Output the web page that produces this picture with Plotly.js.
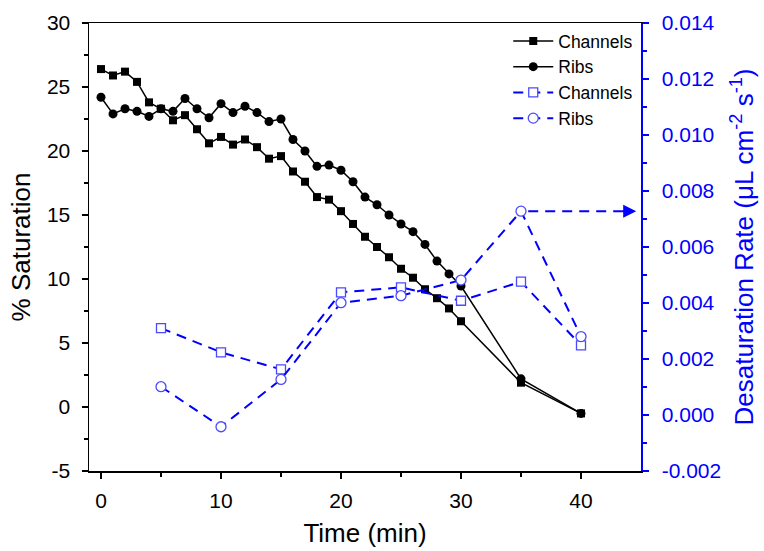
<!DOCTYPE html>
<html>
<head>
<meta charset="utf-8">
<script src="https://cdn.plot.ly/plotly-3.0.1.min.js"></script>
<style>html,body{margin:0;padding:0;background:#fff;}#chart{width:764px;height:551px;}</style>
</head>
<body>
<div id="chart"></div>
<script>
const time = [0,1,2,3,4,5,6,7,8,9,10,11,12,13,14,15,16,17,18,19,20,21,22,23,24,25,26,27,28,29,30,35,40];
const channelsSat = [26.4,25.9,26.2,25.4,23.8,23.3,22.4,22.8,21.7,20.6,21.1,20.5,20.9,20.3,19.4,19.6,18.4,17.6,16.4,16.2,15.3,14.3,13.3,12.5,11.7,10.8,10.1,9.2,8.5,7.7,6.7,1.9,-0.5];
const ribsSat = [24.2,22.9,23.3,23.1,22.7,23.3,23.1,24.1,23.3,22.6,23.7,23.0,23.5,23.0,22.3,22.5,20.9,20.0,18.8,18.9,18.5,17.6,16.4,15.8,15.0,14.3,13.7,12.7,11.4,10.4,9.45,2.2,-0.5];
const rateTime = [5,10,15,20,25,30,35,40];
const channelsRate = [0.0031,0.00224,0.00163,0.00438,0.00456,0.00408,0.00476,0.00249];
const ribsRate = [0.00101,-0.00042,0.00127,0.00401,0.00426,0.00482,0.00728,0.0028];
const seriesNames = ['Channels','Ribs','Channels','Ribs'];
const xTickVals = [0,10,20,30,40];
const yTickVals = [-5,0,5,10,15,20,25,30];
const yTickText = ['-5','0','5','10','15','20','25','30'];
const y2TickVals = [-0.002,0,0.002,0.004,0.006,0.008,0.010,0.012,0.014];
const y2TickText = ['-0.002','0.000','0.002','0.004','0.006','0.008','0.010','0.012','0.014'];

const FONT = 'Liberation Sans, Arial, sans-serif';
const BLUE = '#0000ff';
const MBLUE = '#4a4aff';
const TICKF = 21, TITLEF = 26;

// arrow from the ribs rate peak to the right axis
const peakIdx = ribsRate.indexOf(Math.max(...ribsRate));
const arrowEndX = 44.6;

const traces = [
  {x: time, y: channelsSat, name: seriesNames[0], mode: 'lines+markers', yaxis: 'y',
   line: {color: '#000', width: 1.5}, marker: {symbol: 'square', size: 8, color: '#000'}},
  {x: time, y: ribsSat, name: seriesNames[1], mode: 'lines+markers', yaxis: 'y',
   line: {color: '#000', width: 1.5}, marker: {symbol: 'circle', size: 9, color: '#000'}},
  {x: rateTime, y: channelsRate, name: seriesNames[2], mode: 'lines+markers', yaxis: 'y2',
   line: {color: BLUE, width: 2, dash: '10px,7px'},
   marker: {symbol: 'square', size: 9, color: '#fff', line: {width: 1.3, color: MBLUE}}},
  {x: rateTime, y: ribsRate, name: seriesNames[3], mode: 'lines+markers', yaxis: 'y2',
   line: {color: BLUE, width: 2, dash: '10px,7px'},
   marker: {symbol: 'circle', size: 10, color: '#fff', line: {width: 1.3, color: MBLUE}}}
];

const layout = {
  width: 764, height: 551,
  margin: {l: 89, r: 123, t: 23, b: 80},
  paper_bgcolor: '#fff', plot_bgcolor: '#fff',
  font: {family: FONT, color: '#000'},
  showlegend: true,
  legend: {x: 0.995, y: 1, xanchor: 'right', yanchor: 'top', bgcolor: 'rgba(0,0,0,0)',
           font: {size: 17.5, family: FONT}, itemwidth: 40, tracegroupgap: 0},
  xaxis: {
    range: [-1, 45], tickvals: xTickVals, showgrid: false, zeroline: false,
    showline: true, linecolor: '#000', linewidth: 1.5, mirror: true,
    ticks: 'outside', ticklen: 6, tickwidth: 1.5, tickcolor: '#000', ticklabelstandoff: 4,
    minor: {tickvals: [5,15,25,35], ticks: 'outside', ticklen: 4, tickwidth: 1.5, tickcolor: '#000'},
    tickfont: {size: TICKF, family: FONT},
    title: {text: 'Time (min)', font: {size: TITLEF, family: FONT}, standoff: 13}
  },
  yaxis: {
    range: [-5, 30], tickvals: yTickVals, ticktext: yTickText, showgrid: false, zeroline: false,
    showline: true, linecolor: '#000', linewidth: 1.5,
    ticks: 'outside', ticklen: 6, tickwidth: 1.5, tickcolor: '#000', ticklabelstandoff: 7,
    minor: {dtick: 2.5, ticks: 'outside', ticklen: 4, tickwidth: 1.5, tickcolor: '#000'},
    tickfont: {size: TICKF, family: FONT},
    title: {text: '% Saturation', font: {size: TITLEF, family: FONT}, standoff: 9}
  },
  yaxis2: {
    overlaying: 'y', side: 'right', anchor: 'x',
    range: [-0.002, 0.014], tickvals: y2TickVals, ticktext: y2TickText, showgrid: false, zeroline: false,
    showline: true, linecolor: BLUE, linewidth: 1.5,
    ticks: 'outside', ticklen: 6, tickwidth: 1.5, tickcolor: BLUE, ticklabelstandoff: 9,
    minor: {dtick: 0.001, ticks: 'outside', ticklen: 4, tickwidth: 1.5, tickcolor: BLUE},
    tickfont: {size: TICKF, family: FONT, color: BLUE},
    title: {text: 'Desaturation Rate (μL cm<sup>-2</sup> s<sup>-1</sup>)', font: {size: TITLEF, family: FONT, color: BLUE}, standoff: 14}
  },
  shapes: [
    {type: 'line', xref: 'x', yref: 'y2', x0: rateTime[peakIdx] + 0.6, x1: arrowEndX - 1.2,
     y0: ribsRate[peakIdx], y1: ribsRate[peakIdx], line: {color: BLUE, width: 2, dash: '10px,7px'}}
  ],
  annotations: [
    {x: arrowEndX, y: ribsRate[peakIdx], xref: 'x', yref: 'y2', text: '', showarrow: true,
     ax: -16, ay: 0, arrowhead: 2, arrowsize: 1.3, arrowwidth: 2, arrowcolor: BLUE}
  ]
};

Plotly.newPlot('chart', traces, layout, {displayModeBar: false, staticPlot: true});
</script>
</body>
</html>
